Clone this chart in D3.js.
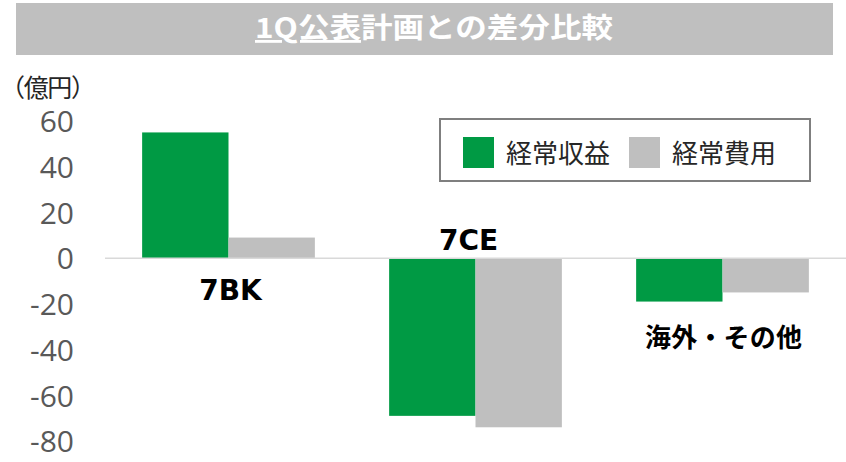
<!DOCTYPE html>
<html>
<head>
<meta charset="utf-8">
<script src="https://cdn.jsdelivr.net/npm/d3@7"></script>
<style>
  body { margin: 0; background: #fff; }
</style>
</head>
<body>
<div id="chart"></div>
<script>
// Chart data
const categories = ["7BK", "7CE", "海外・その他"];
const seriesNames = ["経常収益", "経常費用"];
const revenue = [55, -69, -19];
const expense = [9, -74, -15];
const yTicks = [60, 40, 20, 0, -20, -40, -60, -80];
const seriesColors = ["#009a44", "#bfbfbf"];

const width = 846, height = 462;

const svg = d3.select("#chart")
  .append("svg")
  .attr("width", width)
  .attr("height", height);

// Title bar
svg.append("rect")
  .attr("x", 16)
  .attr("y", 3)
  .attr("width", 817)
  .attr("height", 52)
  .attr("fill", "#bfbfbf");

const title = svg.append("text")
  .attr("x", 434)
  .attr("y", 38)
  .attr("text-anchor", "middle")
  .attr("fill", "#fff")
  .attr("font-family", "'Noto Sans CJK JP', sans-serif")
  .attr("font-weight", "bold")
  .attr("font-size", "28px")
  .attr("textLength", 358)
  .attr("lengthAdjust", "spacingAndGlyphs");
title.append("tspan").attr("text-decoration", "underline").text("1Q公表");
title.append("tspan").text("計画との差分比較");

// Unit label
svg.append("text")
  .attr("x", 0)
  .attr("y", 97)
  .attr("fill", "#262626")
  .attr("font-family", "'Noto Sans CJK JP', sans-serif")
  .attr("font-size", "25px")
  .attr("textLength", 96)
  .attr("lengthAdjust", "spacing")
  .text("（億円）");

// Scales
const x0 = d3.scaleBand()
  .domain(categories)
  .range([105, 846]);

const x1 = d3.scaleBand()
  .domain(seriesNames)
  .range([0, x0.bandwidth()])
  .paddingOuter(0.43);

const y = d3.scaleLinear()
  .domain([-80, 60])
  .range([441, 121]);

// Y axis labels (plain hyphen for negatives)
const yAxis = svg.append("g")
  .attr("transform", "translate(74,0)")
  .call(d3.axisLeft(y).tickValues(yTicks).tickSize(0).tickPadding(0).tickFormat(d => String(d)));
yAxis.select(".domain").remove();
yAxis.selectAll("text")
  .attr("fill", "#595959")
  .attr("font-family", "'Open Sans', sans-serif")
  .attr("font-size", "30px")
  .attr("dy", "0.36em");

// Bars
const rows = categories.map((c, i) => ({ cat: c, values: [revenue[i], expense[i]] }));

const groups = svg.selectAll(".barGroup")
  .data(rows)
  .enter()
  .append("g")
  .attr("class", "barGroup")
  .attr("transform", d => `translate(${x0(d.cat)},0)`);

groups.selectAll("rect")
  .data(d => d.values.map((v, j) => ({ name: seriesNames[j], value: v, j })))
  .enter()
  .append("rect")
  .attr("x", d => x1(d.name))
  .attr("y", d => y(Math.max(0, d.value)))
  .attr("width", x1.bandwidth())
  .attr("height", d => Math.abs(y(d.value) - y(0)))
  .attr("fill", d => seriesColors[d.j]);

// Zero line
svg.append("line")
  .attr("x1", 105)
  .attr("x2", 846)
  .attr("y1", y(0))
  .attr("y2", y(0))
  .attr("stroke", "#d9d9d9")
  .attr("stroke-width", 1.5);

// Category labels
const labelY = [y(0) + 42, y(0) - 8, y(d3.min([revenue[2], expense[2]])) + 45];
const labelDx = [2, -7, 1];
const cats = svg.selectAll(".catLabel")
  .data(categories)
  .enter()
  .append("text")
  .attr("class", "catLabel")
  .attr("x", (d, i) => x0(d) + x0.bandwidth() / 2 + labelDx[i])
  .attr("y", (d, i) => labelY[i])
  .attr("text-anchor", "middle")
  .attr("fill", "#000")
  .attr("font-weight", "bold")
  .attr("font-size", (d, i) => i === 2 ? "26px" : "28px")
  .style("font-family", (d, i) => i === 2 ? "'Noto Sans CJK JP', sans-serif" : "'DejaVu Sans', sans-serif")
  .text(d => d);
cats.filter((d, i) => i === 2)
  .attr("textLength", 157)
  .attr("lengthAdjust", "spacing");

// Legend
const legend = svg.append("g")
  .attr("transform", "translate(440,119)");

legend.append("rect")
  .attr("width", 370)
  .attr("height", 62)
  .attr("fill", "#fff")
  .attr("stroke", "#7f7f7f")
  .attr("stroke-width", 2);

const legendX = [23, 189];
seriesNames.forEach((name, i) => {
  legend.append("rect")
    .attr("x", legendX[i])
    .attr("y", 18)
    .attr("width", 31)
    .attr("height", 31)
    .attr("fill", seriesColors[i]);

  legend.append("text")
    .attr("x", legendX[i] + 43)
    .attr("y", 44)
    .attr("fill", "#262626")
    .attr("font-family", "'Noto Sans CJK JP', sans-serif")
    .attr("font-size", "26px")
    .text(name);
});
</script>
</body>
</html>
